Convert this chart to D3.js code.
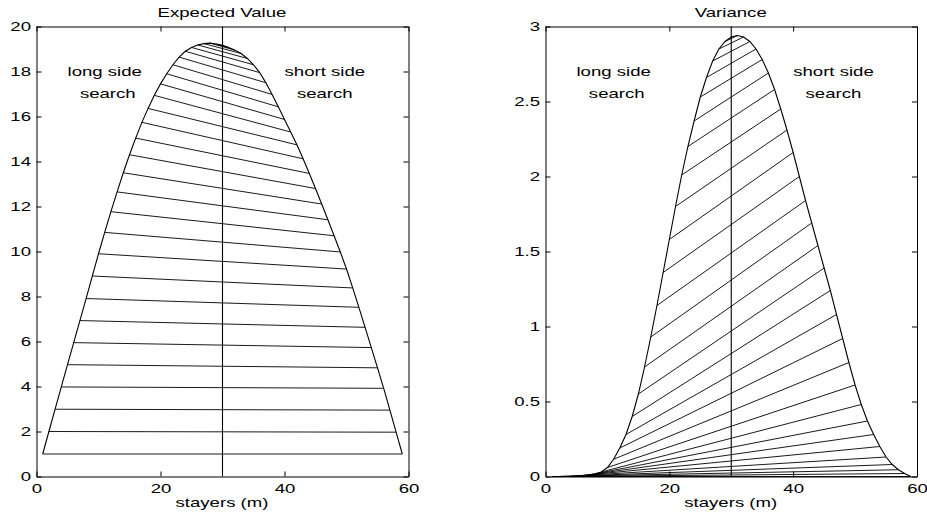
<!DOCTYPE html>
<html>
<head>
<meta charset="utf-8">
<script src="https://cdn.jsdelivr.net/npm/d3@7"></script>
<style>
  html, body { margin: 0; padding: 0; background: #fff; }
  svg { display: block; }
</style>
</head>
<body>
<svg id="fig" width="927" height="517"></svg>
<script>
// Number of stayers m (1..59)
const stayers = [1,2,3,4,5,6,7,8,9,10,11,12,13,14,15,16,17,18,19,20,
  21,22,23,24,25,26,27,28,29,30,31,32,33,34,35,36,37,38,39,40,
  41,42,43,44,45,46,47,48,49,50,51,52,53,54,55,56,57,58,59];

// Expected value for each m
const expectedValue = [1.00,2.00,2.99,3.98,4.97,5.95,6.93,7.91,8.91,9.90,
  10.85,11.77,12.65,13.50,14.30,15.04,15.74,16.36,16.94,17.45,
  17.90,18.30,18.64,18.90,19.07,19.18,19.24,19.26,19.22,19.16,
  19.07,18.95,18.80,18.58,18.30,17.95,17.50,16.98,16.43,15.87,
  15.31,14.74,14.12,13.47,12.80,12.11,11.41,10.70,9.98,9.22,
  8.38,7.52,6.63,5.73,4.83,3.92,2.95,1.97,1.00];

// Variance for each m
const variance = [0,0,0.001,0.002,0.004,0.007,0.011,0.018,0.030,0.060,
  0.115,0.19,0.28,0.40,0.55,0.73,0.93,1.14,1.36,1.58,
  1.80,2.01,2.20,2.37,2.53,2.66,2.77,2.85,2.90,2.93,
  2.94,2.93,2.90,2.85,2.78,2.69,2.58,2.45,2.31,2.16,
  2.00,1.84,1.69,1.54,1.39,1.24,1.08,0.92,0.76,0.61,
  0.48,0.37,0.28,0.20,0.13,0.08,0.045,0.02,0];

const xTicks = [0, 20, 40, 60];
const evTicks = [0, 2, 4, 6, 8, 10, 12, 14, 16, 18, 20];
const varTicks = [0, 0.5, 1, 1.5, 2, 2.5, 3];
const midStayers = 30;

// Region notes (text, x in stayers, y in data units per panel)
const noteText = ["long side", "search", "short side", "search"];
const noteX = [5, 7, 40, 42];
const evNoteY = [18, 17, 18, 17];
const varNoteY = [2.7, 2.55, 2.7, 2.55];

const FONT = "'Liberation Sans', Arial, Helvetica, sans-serif";
const SX = 1.55; // wide glyph look

const svg = d3.select("#fig");

const panels = [
  { title: "Expected Value", values: expectedValue, domain: [0, 20], ticks: evTicks,
    noteY: evNoteY, left: 36, right: 408 },
  { title: "Variance", values: variance, domain: [0, 3], ticks: varTicks,
    noteY: varNoteY, left: 545, right: 916.5 }
];
const plotTop = 26, plotBottom = 476;

function styleAxis(g, hideLabels, leftLabels) {
  g.attr("font-family", FONT).attr("font-size", 12);
  g.selectAll("path.domain").attr("stroke", "#000").attr("stroke-width", 1);
  g.selectAll("line").attr("stroke", "#000").attr("stroke-width", 1);
  if (hideLabels) { g.selectAll("text").remove(); return; }
  g.selectAll("text").attr("fill", "#000").attr("transform", `scale(${SX},1)`);
  if (leftLabels) g.selectAll("text").attr("x", -5.5 / SX);
}

panels.forEach(p => {
  const x = d3.scaleLinear().domain([0, 60]).range([p.left + 0.5, p.right + 0.5]);
  const y = d3.scaleLinear().domain(p.domain).range([plotBottom + 0.5, plotTop + 0.5]);
  const g = svg.append("g");

  // hatch lines joining m and 60-m
  const n = stayers.length;
  const pairs = [];
  for (let i = 0; i < Math.floor(n / 2); i++) {
    pairs.push([[stayers[i], p.values[i]], [stayers[n - 1 - i], p.values[n - 1 - i]]]);
  }
  g.selectAll("line.hatch").data(pairs).join("line")
    .attr("class", "hatch")
    .attr("x1", d => x(d[0][0])).attr("y1", d => y(d[0][1]))
    .attr("x2", d => x(d[1][0])).attr("y2", d => y(d[1][1]))
    .attr("stroke", "#000").attr("stroke-width", 0.9);

  // curve
  const line = d3.line().x((d, i) => x(stayers[i])).y(d => y(d));
  g.append("path").datum(p.values)
    .attr("d", line).attr("fill", "none")
    .attr("stroke", "#000").attr("stroke-width", 1.1);

  // divider at the midpoint
  g.append("line")
    .attr("x1", x(midStayers)).attr("x2", x(midStayers))
    .attr("y1", y(p.domain[0])).attr("y2", y(p.domain[1]))
    .attr("stroke", "#000").attr("stroke-width", 1.1);

  // axes (box with inward ticks)
  g.append("g").attr("transform", `translate(0,${plotBottom + 0.5})`)
    .call(d3.axisBottom(x).tickValues(xTicks).tickSizeInner(-5).tickSizeOuter(0).tickPadding(7.5))
    .call(a => styleAxis(a, false, false));
  g.append("g").attr("transform", `translate(0,${plotTop + 0.5})`)
    .call(d3.axisTop(x).tickValues(xTicks).tickSizeInner(-5).tickSizeOuter(0))
    .call(a => styleAxis(a, true));
  g.append("g").attr("transform", `translate(${p.left + 0.5},0)`)
    .call(d3.axisLeft(y).tickValues(p.ticks).tickSizeInner(-5).tickSizeOuter(0).tickFormat(d => String(d)))
    .call(a => styleAxis(a, false, true));
  g.append("g").attr("transform", `translate(${p.right + 0.5},0)`)
    .call(d3.axisRight(y).tickValues(p.ticks).tickSizeInner(-5).tickSizeOuter(0))
    .call(a => styleAxis(a, true));

  // title and x label
  const cx = (p.left + p.right) / 2;
  g.append("text").text(p.title)
    .attr("transform", `translate(${cx},16.5) scale(${SX},1)`)
    .attr("text-anchor", "middle").attr("font-family", FONT).attr("font-size", 12);
  g.append("text").text("stayers (m)")
    .attr("transform", `translate(${cx},507) scale(${SX},1)`)
    .attr("text-anchor", "middle").attr("font-family", FONT).attr("font-size", 12);

  // region notes
  noteText.forEach((t, i) => {
    g.append("text").text(t)
      .attr("transform", `translate(${x(noteX[i])},${y(p.noteY[i]) + 4}) scale(${SX},1)`)
      .attr("font-family", FONT).attr("font-size", 12);
  });
});
</script>
</body>
</html>
